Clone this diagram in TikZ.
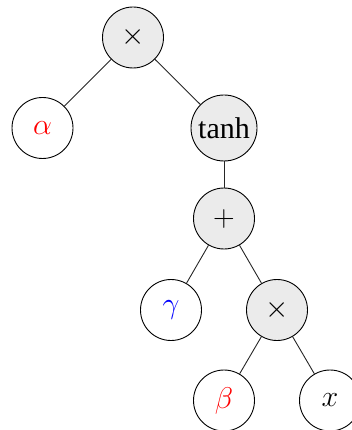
\RequirePackage{fix-cm}
\documentclass[tikz,border=0pt]{standalone}
\usepackage{fontspec}
\setmainfont{Liberation Serif}
\begin{document}
\begin{tikzpicture}[x=1pt,y=-1pt,
  tn/.style={circle,draw=black,line width=0.9pt,minimum size=61pt,inner sep=0pt,font=\fontsize{30}{36}\selectfont},
  op/.style={tn,fill=black!8},
  edge/.style={draw=black!85,line width=0.9pt}]
\useasboundingbox (0,0) rectangle (352,430);
\node[op] (m1) at (133,37.5) {$\times$};
\node[tn] (a) at (42.5,128) {$\color{red}\alpha$};
\node[op,minimum size=66pt] (t) at (224,128) {tanh};
\node[op] (p) at (224,218.5) {$+$};
\node[tn] (g) at (171,310) {$\color{blue}\gamma$};
\node[op] (m2) at (277,310) {$\times$};
\node[tn] (b) at (224,400.5) {$\color{red}\beta$};
\node[tn] (x) at (330,400.5) {$x$};
\draw[edge] (m1) -- (a);
\draw[edge] (m1) -- (t);
\draw[edge] (t) -- (p);
\draw[edge] (p) -- (g);
\draw[edge] (p) -- (m2);
\draw[edge] (m2) -- (b);
\draw[edge] (m2) -- (x);
\end{tikzpicture}
\end{document}
